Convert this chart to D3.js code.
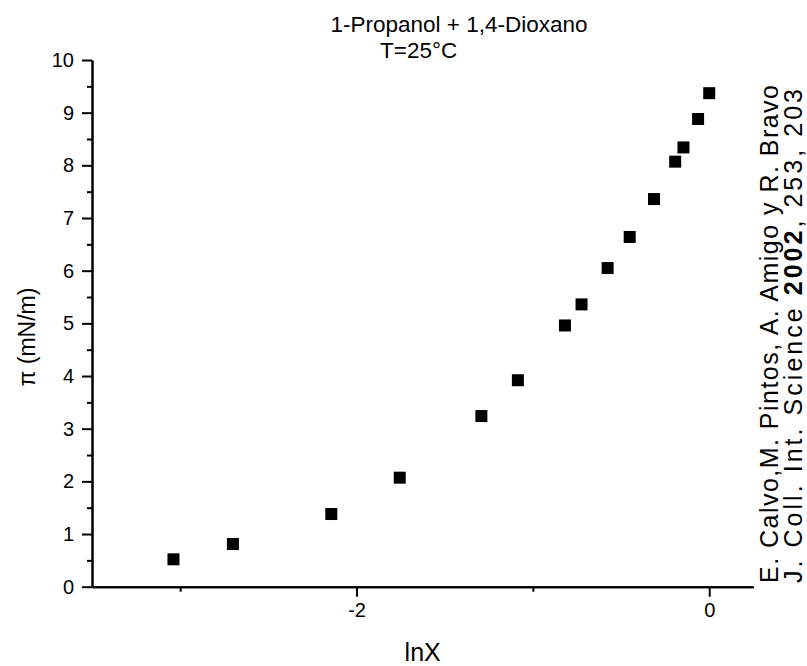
<!DOCTYPE html>
<html>
<head>
<meta charset="utf-8">
<script src="https://cdn.jsdelivr.net/npm/d3@7"></script>
<style>
  html, body { margin: 0; padding: 0; background: #fff; }
  svg { display: block; font-family: "Liberation Sans", Arial, sans-serif; }
</style>
</head>
<body>
<svg id="chart" width="807" height="666"></svg>
<script>
// Surface pressure vs. ln of mole fraction, 1-propanol + 1,4-dioxane at 25 °C
const lnX = [-3.038, -2.701, -2.143, -1.755, -1.292, -1.085, -0.818, -0.724,
             -0.576, -0.451, -0.313, -0.193, -0.146, -0.063, 0.0];
const piValues = [0.52, 0.81, 1.38, 2.07, 3.24, 3.92, 4.96, 5.36,
                  6.05, 6.64, 7.36, 8.07, 8.34, 8.88, 9.37];

const xMajorTicks = [-2, 0];
const xMinorTicks = [-3, -1];
const yMajorTicks = [0, 1, 2, 3, 4, 5, 6, 7, 8, 9, 10];
const yMinorTicks = [0.5, 1.5, 2.5, 3.5, 4.5, 5.5, 6.5, 7.5, 8.5, 9.5];

const titleLines = ["1-Propanol + 1,4-Dioxano", "T=25°C"];
const xTitle = "lnX";
const yTitle = "π (mN/m)";

const svg = d3.select("#chart");

const x = d3.scaleLinear().domain([-3.5, 0.25]).range([92, 753.3]);
const y = d3.scaleLinear().domain([0, 10]).range([586.7, 60]);

function styleAxis(g) {
  g.selectAll("path.domain").attr("stroke", "#000").attr("stroke-width", 2);
  g.selectAll(".tick line").attr("stroke", "#000").attr("stroke-width", 2);
  g.selectAll(".tick text")
    .attr("fill", "#000")
    .style("font-size", "20px")
    .style("font-family", "'Liberation Sans', Arial, sans-serif");
}

// x axis: labelled major ticks plus short minor ticks
svg.append("g")
  .attr("transform", `translate(0,${y(0)})`)
  .call(d3.axisBottom(x).tickValues(xMinorTicks).tickSize(5).tickSizeOuter(0).tickFormat(""))
  .call(styleAxis);
svg.append("g")
  .attr("transform", `translate(0,${y(0)})`)
  .call(d3.axisBottom(x).tickValues(xMajorTicks).tickSize(10).tickSizeOuter(0)
        .tickPadding(6).tickFormat(d3.format("d")))
  .call(styleAxis)
  .call(g => g.selectAll(".tick text").text(d => d < 0 ? "-" + Math.abs(d) : d));

// y axis: every integer labelled, half-units as minor ticks
svg.append("g")
  .attr("transform", `translate(${x(-3.5)},0)`)
  .call(d3.axisLeft(y).tickValues(yMinorTicks).tickSize(5).tickSizeOuter(0).tickFormat(""))
  .call(styleAxis);
svg.append("g")
  .attr("transform", `translate(${x(-3.5)},0)`)
  .call(d3.axisLeft(y).tickValues(yMajorTicks).tickSize(10).tickSizeOuter(0)
        .tickPadding(8).tickFormat(d3.format("d")))
  .call(styleAxis);

// square markers
const size = 12;
svg.append("g")
  .selectAll("rect")
  .data(lnX.map((v, i) => [v, piValues[i]]))
  .join("rect")
  .attr("x", d => x(d[0]) - size / 2)
  .attr("y", d => y(d[1]) - size / 2)
  .attr("width", size)
  .attr("height", size)
  .attr("fill", "#000");

// title
svg.append("text")
  .attr("x", 459).attr("y", 32)
  .attr("text-anchor", "middle")
  .style("font-size", "22.5px")
  .text(titleLines[0]);
svg.append("text")
  .attr("x", 380).attr("y", 58)
  .attr("text-anchor", "start")
  .style("font-size", "22.5px")
  .text(titleLines[1]);

// axis titles
svg.append("text")
  .attr("x", (x(-3.5) + x(0.25)) / 2).attr("y", 661)
  .attr("text-anchor", "middle")
  .style("font-size", "25px")
  .text(xTitle);
svg.append("text")
  .attr("transform", "translate(35,337) rotate(-90)")
  .attr("text-anchor", "middle")
  .style("font-size", "23px")
  .text(yTitle);

// reference note on the right margin
svg.append("text")
  .attr("transform", "translate(778,583) rotate(-90)")
  .attr("text-anchor", "start")
  .attr("textLength", 498)
  .attr("lengthAdjust", "spacing")
  .style("font-size", "25px")
  .text("E. Calvo,M. Pintos, A. Amigo y R. Bravo");
const ref2 = svg.append("text")
  .attr("transform", "translate(802,583) rotate(-90)")
  .attr("text-anchor", "start")
  .attr("textLength", 494)
  .attr("lengthAdjust", "spacing")
  .style("font-size", "25px");
ref2.append("tspan").text("J. Coll. Int. Science ");
ref2.append("tspan").style("font-weight", "bold").text("2002");
ref2.append("tspan").text(", 253, 203");
</script>
</body>
</html>
